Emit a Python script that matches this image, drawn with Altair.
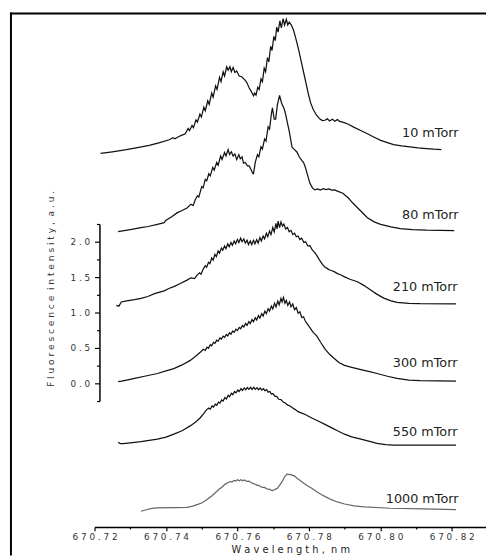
import altair as alt
import pandas as pd

series_names = ["10 mTorr", "80 mTorr", "210 mTorr", "300 mTorr", "550 mTorr", "1000 mTorr"]

wl_10 = [670.7217, 670.7250, 670.7289, 670.7320, 670.7353, 670.7380, 670.7409, 670.7420, 670.7425, 670.7436,
         670.7445, 670.7454, 670.7462, 670.7466, 670.7473, 670.7477, 670.7484, 670.7488, 670.7495, 670.7499,
         670.7506, 670.7510, 670.7517, 670.7521, 670.7528, 670.7532, 670.7539, 670.7543, 670.7550, 670.7554,
         670.7560, 670.7564, 670.7570, 670.7574, 670.7579, 670.7583, 670.7588, 670.7593, 670.7598, 670.7605,
         670.7612, 670.7620, 670.7626, 670.7633, 670.7638, 670.7642, 670.7645, 670.7648, 670.7652, 670.7657,
         670.7661, 670.7666, 670.7670, 670.7675, 670.7679, 670.7684, 670.7688, 670.7693, 670.7697, 670.7702,
         670.7706, 670.7710, 670.7714, 670.7719, 670.7723, 670.7728, 670.7732, 670.7737, 670.7741, 670.7745,
         670.7751, 670.7757, 670.7764, 670.7771, 670.7778, 670.7785, 670.7792, 670.7799, 670.7805, 670.7812,
         670.7821, 670.7831, 670.7838, 670.7845, 670.7852, 670.7858, 670.7866, 670.7873, 670.7880, 670.7886,
         670.7897, 670.7909, 670.7927, 670.7945, 670.7964, 670.7983, 670.8001, 670.8020, 670.8037, 670.8060,
         670.8083, 670.8106, 670.8129, 670.8150, 670.8171]
in_10 = [3.246, 3.270, 3.301, 3.330, 3.361, 3.395, 3.440, 3.470, 3.455, 3.486,
         3.505, 3.524, 3.600, 3.570, 3.640, 3.610, 3.720, 3.690, 3.800, 3.760,
         3.900, 3.850, 3.990, 3.940, 4.100, 4.040, 4.200, 4.150, 4.320, 4.260,
         4.400, 4.340, 4.470, 4.420, 4.470, 4.400, 4.460, 4.390, 4.410, 4.340,
         4.330, 4.290, 4.250, 4.170, 4.130, 4.090, 4.060, 4.100, 4.070, 4.180,
         4.150, 4.300, 4.260, 4.450, 4.400, 4.600, 4.540, 4.760, 4.700, 4.900,
         4.840, 5.030, 4.960, 5.120, 5.020, 5.150, 5.060, 5.140, 5.060, 5.100,
         5.060, 4.990, 4.860, 4.720, 4.560, 4.400, 4.240, 4.079, 3.960, 3.871,
         3.790, 3.732, 3.710, 3.715, 3.735, 3.705, 3.730, 3.700, 3.725, 3.700,
         3.685, 3.663, 3.615, 3.570, 3.524, 3.475, 3.431, 3.400, 3.371, 3.352,
         3.338, 3.325, 3.315, 3.306, 3.301]

wl_80 = [670.7266, 670.7300, 670.7330, 670.7350, 670.7376, 670.7395, 670.7399, 670.7415, 670.7431, 670.7445,
         670.7459, 670.7470, 670.7476, 670.7482, 670.7488, 670.7492, 670.7500, 670.7504, 670.7510, 670.7514,
         670.7520, 670.7524, 670.7531, 670.7535, 670.7542, 670.7546, 670.7553, 670.7557, 670.7564, 670.7568,
         670.7574, 670.7578, 670.7583, 670.7588, 670.7593, 670.7598, 670.7604, 670.7608, 670.7613, 670.7617,
         670.7622, 670.7628, 670.7633, 670.7638, 670.7643, 670.7645, 670.7650, 670.7656, 670.7660, 670.7666,
         670.7670, 670.7676, 670.7680, 670.7686, 670.7690, 670.7695, 670.7698, 670.7703, 670.7707, 670.7712,
         670.7718, 670.7724, 670.7730, 670.7735, 670.7739, 670.7745, 670.7753, 670.7760, 670.7767, 670.7773,
         670.7780, 670.7785, 670.7790, 670.7797, 670.7803, 670.7810, 670.7817, 670.7825, 670.7832, 670.7840,
         670.7848, 670.7856, 670.7864, 670.7872, 670.7880, 670.7895, 670.7910, 670.7923, 670.7944, 670.7964,
         670.7983, 670.8001, 670.8030, 670.8056, 670.8090, 670.8129, 670.8170, 670.8207]
in_80 = [2.143, 2.170, 2.199, 2.215, 2.246, 2.270, 2.300, 2.350, 2.407, 2.440,
         2.476, 2.530, 2.510, 2.593, 2.650, 2.630, 2.778, 2.760, 2.880, 2.860,
         2.960, 2.930, 3.050, 3.010, 3.120, 3.080, 3.210, 3.160, 3.260, 3.210,
         3.300, 3.230, 3.270, 3.210, 3.240, 3.160, 3.230, 3.170, 3.200, 3.110,
         3.120, 3.070, 3.070, 3.020, 2.963, 2.960, 3.120, 3.230, 3.200, 3.340,
         3.310, 3.450, 3.420, 3.620, 3.590, 3.800, 3.889, 3.730, 3.730, 3.935,
         4.065, 3.950, 3.889, 3.800, 3.704, 3.560, 3.333, 3.300, 3.264, 3.200,
         3.149, 3.120, 3.056, 2.930, 2.824, 2.760, 2.732, 2.745, 2.730, 2.748,
         2.735, 2.745, 2.730, 2.732, 2.715, 2.685, 2.620, 2.546, 2.440, 2.338,
         2.280, 2.246, 2.210, 2.185, 2.172, 2.163, 2.159, 2.157]

wl_210 = [670.7261, 670.7268, 670.7275, 670.7290, 670.7312, 670.7330, 670.7349, 670.7370, 670.7395, 670.7408,
          670.7422, 670.7440, 670.7459, 670.7470, 670.7480, 670.7487, 670.7494, 670.7498, 670.7505, 670.7510,
          670.7514, 670.7519, 670.7523, 670.7528, 670.7532, 670.7537, 670.7541, 670.7546, 670.7550, 670.7555,
          670.7559, 670.7564, 670.7568, 670.7573, 670.7577, 670.7582, 670.7586, 670.7591, 670.7595, 670.7600,
          670.7604, 670.7609, 670.7613, 670.7618, 670.7622, 670.7627, 670.7631, 670.7636, 670.7640, 670.7645,
          670.7649, 670.7654, 670.7658, 670.7663, 670.7667, 670.7672, 670.7676, 670.7681, 670.7685, 670.7690,
          670.7694, 670.7699, 670.7703, 670.7708, 670.7711, 670.7714, 670.7718, 670.7722, 670.7726, 670.7730,
          670.7735, 670.7740, 670.7745, 670.7750, 670.7755, 670.7760, 670.7765, 670.7770, 670.7775, 670.7780,
          670.7786, 670.7791, 670.7797, 670.7803, 670.7810, 670.7816, 670.7822, 670.7830, 670.7838, 670.7845,
          670.7852, 670.7858, 670.7865, 670.7872, 670.7880, 670.7890, 670.7900, 670.7915, 670.7936, 670.7955,
          670.7973, 670.7990, 670.8010, 670.8030, 670.8047, 670.8080, 670.8111, 670.8212]
in_210 = [1.101, 1.090, 1.149, 1.165, 1.181, 1.200, 1.226, 1.270, 1.306, 1.340,
          1.365, 1.410, 1.458, 1.490, 1.480, 1.528, 1.560, 1.540, 1.621, 1.660,
          1.640, 1.710, 1.690, 1.770, 1.740, 1.820, 1.790, 1.870, 1.840, 1.910,
          1.880, 1.940, 1.900, 1.970, 1.930, 1.990, 1.950, 2.010, 1.970, 2.030,
          1.990, 2.050, 2.000, 2.040, 1.980, 2.020, 1.960, 2.010, 1.960, 2.020,
          1.970, 2.030, 1.980, 2.060, 2.010, 2.080, 2.040, 2.120, 2.070, 2.150,
          2.100, 2.200, 2.140, 2.260, 2.180, 2.292, 2.200, 2.280, 2.220, 2.250,
          2.180, 2.200, 2.140, 2.160, 2.100, 2.120, 2.070, 2.080, 2.030, 2.050,
          1.990, 2.000, 1.940, 1.944, 1.880, 1.850, 1.806, 1.740, 1.680, 1.643,
          1.620, 1.600, 1.590, 1.574, 1.550, 1.530, 1.504, 1.470, 1.435, 1.380,
          1.319, 1.260, 1.204, 1.165, 1.143, 1.130, 1.125, 1.121]

wl_300 = [670.7266, 670.7275, 670.7290, 670.7312, 670.7340, 670.7376, 670.7400, 670.7422, 670.7445, 670.7468,
          670.7482, 670.7496, 670.7505, 670.7510, 670.7515, 670.7519, 670.7524, 670.7528, 670.7533, 670.7537,
          670.7542, 670.7546, 670.7551, 670.7555, 670.7560, 670.7564, 670.7569, 670.7573, 670.7578, 670.7582,
          670.7587, 670.7591, 670.7596, 670.7600, 670.7605, 670.7609, 670.7614, 670.7618, 670.7623, 670.7627,
          670.7632, 670.7636, 670.7641, 670.7645, 670.7650, 670.7654, 670.7659, 670.7663, 670.7668, 670.7672,
          670.7677, 670.7681, 670.7686, 670.7690, 670.7695, 670.7699, 670.7704, 670.7708, 670.7713, 670.7717,
          670.7722, 670.7725, 670.7729, 670.7733, 670.7737, 670.7741, 670.7746, 670.7750, 670.7755, 670.7760,
          670.7765, 670.7770, 670.7775, 670.7780, 670.7785, 670.7790, 670.7797, 670.7803, 670.7812, 670.7822,
          670.7833, 670.7845, 670.7858, 670.7872, 670.7885, 670.7900, 670.7920, 670.7946, 670.7970, 670.7991,
          670.8020, 670.8047, 670.8080, 670.8111, 670.8212]
in_300 = [0.024, 0.030, 0.045, 0.069, 0.100, 0.139, 0.175, 0.208, 0.260, 0.324,
          0.380, 0.440, 0.480, 0.465, 0.510, 0.495, 0.545, 0.530, 0.579, 0.565,
          0.610, 0.595, 0.640, 0.625, 0.665, 0.650, 0.690, 0.670, 0.715, 0.695,
          0.740, 0.720, 0.765, 0.745, 0.790, 0.770, 0.815, 0.795, 0.845, 0.820,
          0.870, 0.845, 0.900, 0.870, 0.925, 0.895, 0.955, 0.920, 0.985, 0.950,
          1.020, 0.985, 1.055, 1.020, 1.090, 1.050, 1.130, 1.080, 1.160, 1.110,
          1.200, 1.150, 1.213, 1.130, 1.170, 1.100, 1.150, 1.080, 1.120, 1.040,
          1.070, 0.990, 1.010, 0.930, 0.940, 0.880, 0.830, 0.788, 0.720, 0.671,
          0.580, 0.486, 0.410, 0.347, 0.290, 0.254, 0.225, 0.194, 0.165, 0.139,
          0.100, 0.069, 0.045, 0.038, 0.032]

wl_550 = [670.7266, 670.7272, 670.7280, 670.7300, 670.7330, 670.7376, 670.7400, 670.7422, 670.7445, 670.7468,
          670.7483, 670.7496, 670.7505, 670.7514, 670.7520, 670.7524, 670.7529, 670.7533, 670.7538, 670.7542,
          670.7547, 670.7551, 670.7556, 670.7560, 670.7565, 670.7569, 670.7574, 670.7578, 670.7583, 670.7587,
          670.7592, 670.7596, 670.7601, 670.7605, 670.7610, 670.7614, 670.7619, 670.7623, 670.7628, 670.7632,
          670.7637, 670.7641, 670.7646, 670.7650, 670.7655, 670.7659, 670.7664, 670.7668, 670.7673, 670.7677,
          670.7682, 670.7686, 670.7691, 670.7695, 670.7700, 670.7705, 670.7710, 670.7716, 670.7722, 670.7728,
          670.7734, 670.7740, 670.7747, 670.7754, 670.7762, 670.7770, 670.7780, 670.7790, 670.7808, 670.7826,
          670.7845, 670.7863, 670.7880, 670.7900, 670.7920, 670.7946, 670.7970, 670.7991, 670.8015, 670.8037,
          670.8111, 670.8212]
in_550 = [-0.833, -0.850, -0.850, -0.840, -0.824, -0.788, -0.760, -0.718, -0.670, -0.601,
          -0.545, -0.486, -0.430, -0.371, -0.350, -0.365, -0.320, -0.335, -0.295, -0.310,
          -0.265, -0.280, -0.235, -0.250, -0.200, -0.220, -0.170, -0.190, -0.140, -0.160,
          -0.115, -0.135, -0.095, -0.115, -0.075, -0.100, -0.065, -0.090, -0.060, -0.085,
          -0.055, -0.085, -0.055, -0.085, -0.060, -0.090, -0.065, -0.095, -0.075, -0.105,
          -0.090, -0.125, -0.115, -0.150, -0.145, -0.185, -0.185, -0.225, -0.230, -0.265,
          -0.278, -0.305, -0.320, -0.345, -0.371, -0.400, -0.420, -0.440, -0.490, -0.532,
          -0.580, -0.625, -0.670, -0.718, -0.755, -0.788, -0.820, -0.847, -0.865, -0.871,
          -0.871, -0.871]

wl_1000 = [670.7330, 670.7345, 670.7360, 670.7376, 670.7420, 670.7459, 670.7475, 670.7487, 670.7500, 670.7514,
           670.7528, 670.7542, 670.7550, 670.7556, 670.7562, 670.7569, 670.7575, 670.7580, 670.7585, 670.7590,
           670.7595, 670.7600, 670.7605, 670.7610, 670.7615, 670.7620, 670.7626, 670.7632, 670.7638, 670.7643,
           670.7650, 670.7655, 670.7660, 670.7665, 670.7670, 670.7676, 670.7682, 670.7688, 670.7693, 670.7698,
           670.7703, 670.7708, 670.7712, 670.7718, 670.7725, 670.7732, 670.7739, 670.7745, 670.7749, 670.7753,
           670.7760, 670.7767, 670.7774, 670.7780, 670.7794, 670.7808, 670.7822, 670.7836, 670.7850, 670.7863,
           670.7880, 670.7900, 670.7927, 670.7955, 670.8028, 670.8120, 670.8212]
in_1000 = [-1.806, -1.785, -1.765, -1.760, -1.755, -1.750, -1.735, -1.713, -1.690, -1.643,
           -1.590, -1.528, -1.490, -1.470, -1.440, -1.413, -1.400, -1.385, -1.395, -1.370,
           -1.380, -1.360, -1.375, -1.360, -1.375, -1.365, -1.385, -1.380, -1.400, -1.413,
           -1.425, -1.440, -1.440, -1.460, -1.468, -1.470, -1.490, -1.495, -1.505, -1.514,
           -1.505, -1.490, -1.482, -1.440, -1.389, -1.320, -1.282, -1.290, -1.285, -1.296,
           -1.310, -1.340, -1.365, -1.389, -1.440, -1.482, -1.530, -1.574, -1.610, -1.643,
           -1.675, -1.704, -1.730, -1.746, -1.764, -1.774, -1.782]

label_level = [3.54, 2.375, 1.36, 0.29, -0.69, -1.64]
label_wl = [670.8219, 670.8219, 670.8216, 670.8216, 670.8216, 670.8219]

x_ticks = [670.72, 670.73, 670.74, 670.75, 670.76, 670.77, 670.78, 670.79, 670.80, 670.81, 670.82]
y_ticks = [-0.25, 0.0, 0.25, 0.5, 0.75, 1.0, 1.25, 1.5, 1.75, 2.0, 2.25]


def spaced(s):
    # imitate the wide letter spacing of the original typesetting
    return "\u00a0\u00a0".join(" ".join(list(w)) for w in s.split(" "))


rows = []
for name, wl, iv in zip(series_names,
                        [wl_10, wl_80, wl_210, wl_300, wl_550, wl_1000],
                        [in_10, in_80, in_210, in_300, in_550, in_1000]):
    for a, b in zip(wl, iv):
        rows.append({"series": name, "wl": a, "val": b})
df = pd.DataFrame(rows)
label_df = pd.DataFrame({"name": series_names, "wl": label_wl, "lev": label_level})
one = pd.DataFrame({"k": [0]})

FONT = "DejaVu Sans"
x_scale = alt.Scale(domain=[670.72, 670.8296], nice=False, zero=False)
y_scale = alt.Scale(domain=[-0.25, 2.25], range=[395, 215], nice=False, zero=False)

x_axis = alt.Axis(
    values=x_ticks, title=spaced("Wavelength, nm"), grid=False,
    labelExpr="round(datum.value*100) % 2 == 0 ? join(split(format(datum.value, '.2f'), ''), ' ') : ''",
    tickSize={"condition": {"test": "round(datum.value*100) % 2 != 0", "value": 2}, "value": 4},
    domainColor="black", domainWidth=1.5, tickColor="black", tickWidth=1.2,
    labelFont=FONT, labelFontSize=9, labelColor="#333", labelPadding=2,
    labelOverlap=False, labelFlush=False,
    titleFont=FONT, titleFontSize=10, titleFontWeight="normal", titleColor="#222", titlePadding=3,
)
y_axis = alt.Axis(
    values=y_ticks, title=None, grid=False, offset=-5,
    labelExpr="abs(datum.value*2 - round(datum.value*2)) < 0.001 ? join(split(format(datum.value, '.1f'), ''), ' ') : ''",
    tickSize={"condition": {"test": "abs(datum.value*2 - round(datum.value*2)) > 0.001", "value": 3}, "value": 5},
    domainColor="black", domainWidth=1.5, tickColor="black", tickWidth=1.2,
    labelFont=FONT, labelFontSize=9, labelColor="#333", labelPadding=5,
    labelOverlap=False, labelFlush=False,
)

lines = alt.Chart(df).mark_line(strokeWidth=1.25).encode(
    x=alt.X("wl:Q", scale=x_scale, axis=x_axis),
    y=alt.Y("val:Q", scale=y_scale, axis=y_axis),
    detail="series:N",
    color=alt.Color("series:N", scale=alt.Scale(domain=series_names,
                                                 range=["#111", "#111", "#111", "#111", "#111", "#666"]),
                    legend=None),
)

labels = alt.Chart(label_df).mark_text(align="right", baseline="middle", font=FONT,
                                        fontSize=13, color="#222").encode(
    x=alt.X("wl:Q", scale=x_scale, axis=x_axis),
    y=alt.Y("lev:Q", scale=y_scale, axis=y_axis),
    text="name:N",
)

y_title = alt.Chart(one).mark_text(angle=270, align="center", baseline="middle", font=FONT,
                                    fontSize=9.2, color="#333").encode(
    x=alt.value(-44), y=alt.value(281), text=alt.value(spaced("Fluorescence intensity, a.u."))
)

left_border = alt.Chart(one).mark_rule(color="black", strokeWidth=2).encode(
    x=alt.value(-85), y=alt.value(0), y2=alt.value(552)
)
top_border = alt.Chart(one).mark_rule(color="black", strokeWidth=2).encode(
    x=alt.value(-86), x2=alt.value(398), y=alt.value(1)
)

chart = alt.layer(lines, labels, y_title, left_border, top_border).properties(
    width=398, height=523,
    autosize=alt.AutoSizeParams(type="none"),
    padding={"left": 88, "top": 0, "right": 0, "bottom": 29},
    background="white",
).configure_view(stroke=None)

chart.save("out.html", embed_options={"renderer": "svg", "actions": False})
